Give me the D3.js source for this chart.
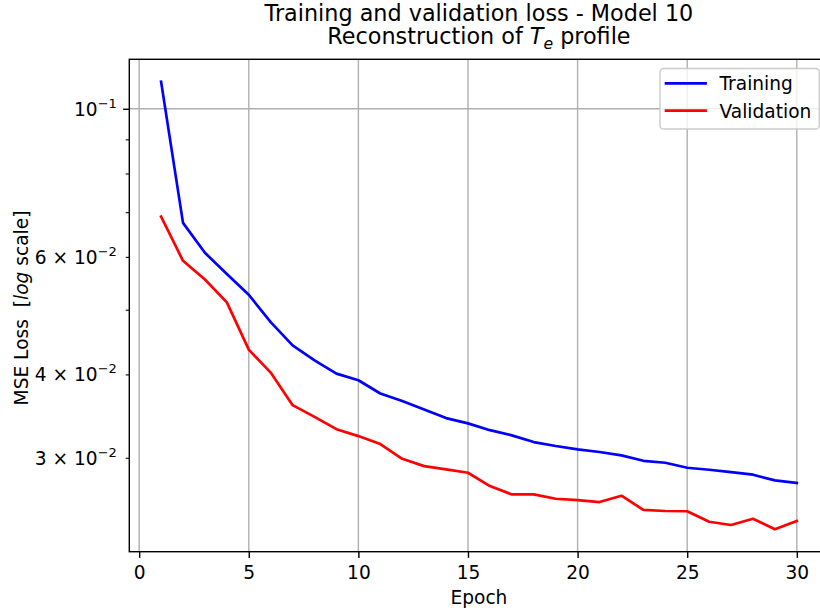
<!DOCTYPE html>
<html>
<head>
<meta charset="utf-8">
<script src="https://cdn.jsdelivr.net/npm/d3@7"></script>
<style>
  html, body { margin: 0; padding: 0; background: #ffffff; }
  svg { display: block; font-family: "DejaVu Sans", sans-serif; }
  text { white-space: pre; }
</style>
</head>
<body>
<svg id="chart" width="820" height="614" font-family="DejaVu Sans"></svg>
<script>
// Loss per epoch
const epochs = d3.range(1, 31);
const trainingLoss = [
  0.1098, 0.06747, 0.06084, 0.05655, 0.05265, 0.04791, 0.04421, 0.04199, 0.04011, 0.03920,
  0.03745, 0.03650, 0.03544, 0.03440, 0.03378, 0.03300, 0.03241, 0.03167, 0.03124, 0.03089,
  0.03060, 0.03025, 0.02969, 0.02949, 0.02899, 0.02879, 0.02856, 0.02830, 0.02775, 0.02750
];
const validationLoss = [
  0.06895, 0.05919, 0.05550, 0.05128, 0.04356, 0.04025, 0.03597, 0.03455, 0.03311, 0.03233,
  0.03145, 0.02989, 0.02915, 0.02882, 0.02849, 0.02721, 0.02644, 0.02644, 0.02605, 0.02593,
  0.02575, 0.02632, 0.02506, 0.02497, 0.02495, 0.02406, 0.02379, 0.02431, 0.02344, 0.02412
];

// Axis ticks
const xTicks = [0, 5, 10, 15, 20, 25, 30];
const yMajorTicks = [0.1];
const yMinorTicks = [0.03, 0.04, 0.05, 0.06, 0.07, 0.08, 0.09];
const yLabelValues = [0.03, 0.04, 0.06, 0.1];
const yLabelMantissa = [3, 4, 6, null];
const yLabelExponent = [-2, -2, -2, -1];

const seriesNames = ["Training", "Validation"];
const seriesColors = ["#0000ff", "#ff0000"];

const FONT = "DejaVu Sans";
const svg = d3.select("#chart");
const plot = { left: 129.3, top: 59.3, right: 828.6, bottom: 551.7 };
const fs = 18.6;
const titleFs = 22.3;

// Scales with 5% margins (linear in x, logarithmic in y)
const xExt = d3.extent(epochs);
const xPad = (xExt[1] - xExt[0]) * 0.05;
const x = d3.scaleLinear()
  .domain([xExt[0] - xPad, xExt[1] + xPad])
  .range([plot.left, plot.right]);

const allLoss = trainingLoss.concat(validationLoss);
const lMin = Math.log10(d3.min(allLoss)), lMax = Math.log10(d3.max(allLoss));
const lPad = (lMax - lMin) * 0.05;
const y = d3.scaleLog()
  .domain([Math.pow(10, lMin - lPad), Math.pow(10, lMax + lPad)])
  .range([plot.bottom, plot.top]);

// Grid
const grid = svg.append("g").attr("stroke", "#b0b0b0").attr("stroke-width", 1.42);
grid.selectAll("line.gx").data(xTicks).join("line")
  .attr("class", "gx")
  .attr("x1", d => x(d)).attr("x2", d => x(d))
  .attr("y1", plot.top).attr("y2", plot.bottom);
grid.selectAll("line.gy").data(yMajorTicks).join("line")
  .attr("class", "gy")
  .attr("x1", plot.left).attr("x2", plot.right)
  .attr("y1", d => y(d)).attr("y2", d => y(d));

// Lines
const line = d3.line().x((d, i) => x(epochs[i])).y(d => y(d));
[trainingLoss, validationLoss].forEach((series, k) => {
  svg.append("path")
    .datum(series)
    .attr("fill", "none")
    .attr("stroke", seriesColors[k])
    .attr("stroke-width", 2.67)
    .attr("stroke-linejoin", "round")
    .attr("stroke-linecap", "square")
    .attr("d", line);
});

// X axis
const xAxis = svg.append("g")
  .attr("transform", `translate(0,${plot.bottom})`)
  .call(d3.axisBottom(x).tickValues(xTicks).tickSize(6.2).tickPadding(6.2).tickFormat(d3.format("d")));
xAxis.attr("font-family", FONT).attr("font-size", fs);
xAxis.select(".domain").remove();
xAxis.selectAll(".tick line").attr("stroke", "#000").attr("stroke-width", 1.42);
xAxis.selectAll(".tick text")
  .attr("fill", "#000")
  .attr("dy", null).attr("y", 27.8);

// Y axis: major and minor ticks
const yAxisMajor = svg.append("g")
  .attr("transform", `translate(${plot.left},0)`)
  .call(d3.axisLeft(y).tickValues(yMajorTicks).tickSize(6.2).tickFormat(""));
yAxisMajor.select(".domain").remove();
yAxisMajor.selectAll(".tick line").attr("stroke", "#000").attr("stroke-width", 1.42);

const yAxisMinor = svg.append("g")
  .attr("transform", `translate(${plot.left},0)`)
  .call(d3.axisLeft(y).tickValues(yMinorTicks).tickSize(3.6).tickFormat(""));
yAxisMinor.select(".domain").remove();
yAxisMinor.selectAll(".tick line").attr("stroke", "#000").attr("stroke-width", 1.07);

// Y tick labels in scientific notation
const yLab = svg.append("g")
  .attr("font-family", FONT).attr("font-size", fs)
  .attr("fill", "#000").attr("text-anchor", "end");
yLabelValues.forEach((v, i) => {
  const t = yLab.append("text")
    .attr("x", plot.left - 12.4)
    .attr("y", y(v) + 7.0);
  const m = yLabelMantissa[i];
  t.append("tspan").text(m === null ? "10" : `${m} \u00d7 10`);
  t.append("tspan")
    .attr("font-size", fs * 0.7)
    .attr("dy", -8.0)
    .text("\u2212" + Math.abs(yLabelExponent[i]));
});

// Spines
svg.append("rect")
  .attr("x", plot.left).attr("y", plot.top)
  .attr("width", plot.right - plot.left).attr("height", plot.bottom - plot.top)
  .attr("fill", "none").attr("stroke", "#000").attr("stroke-width", 1.42);

// Axis labels
svg.append("text")
  .attr("x", (plot.left + plot.right) / 2).attr("y", 604)
  .attr("text-anchor", "middle")
  .attr("font-family", FONT).attr("font-size", fs)
  .text("Epoch");

const yl = svg.append("text")
  .attr("transform", `translate(27.5,308) rotate(-90)`)
  .attr("text-anchor", "middle")
  .attr("font-family", FONT).attr("font-size", fs);
yl.append("tspan").text("MSE Loss  [");
yl.append("tspan").attr("font-style", "italic").text("log");
yl.append("tspan").text(" scale]");

// Title
const cx = (plot.left + plot.right) / 2;
svg.append("text")
  .attr("x", cx).attr("y", 20.7)
  .attr("text-anchor", "middle")
  .attr("font-family", FONT).attr("font-size", titleFs)
  .text("Training and validation loss - Model 10");
const t2 = svg.append("text")
  .attr("x", cx).attr("y", 44.3)
  .attr("text-anchor", "middle")
  .attr("font-family", FONT).attr("font-size", titleFs);
t2.append("tspan").text("Reconstruction of ");
t2.append("tspan").attr("font-style", "italic").text("T");
t2.append("tspan").attr("font-style", "italic").attr("font-size", titleFs * 0.7).attr("dy", 4.6).text("e");
t2.append("tspan").attr("dy", -4.6).text(" profile");

// Legend
const legend = svg.append("g").attr("font-family", FONT).attr("font-size", fs);
const lgRight = plot.right - 9.3;
const lgBox = { x: 660, y: 68.5, w: lgRight - 660, h: 60.5 };
legend.append("rect")
  .attr("x", lgBox.x).attr("y", lgBox.y)
  .attr("width", lgBox.w).attr("height", lgBox.h)
  .attr("rx", 3.6).attr("ry", 3.6)
  .attr("fill", "#ffffff").attr("fill-opacity", 0.8)
  .attr("stroke", "#cccccc").attr("stroke-width", 1.42);
seriesNames.forEach((name, i) => {
  const ly = 83.3 + i * 27.4;
  legend.append("line")
    .attr("x1", 666).attr("x2", 705.6)
    .attr("y1", ly).attr("y2", ly)
    .attr("stroke", seriesColors[i]).attr("stroke-width", 2.67)
    .attr("stroke-linecap", "square");
  legend.append("text")
    .attr("x", 719.5).attr("y", ly + 7.0)
    .text(name);
});
</script>
</body>
</html>
